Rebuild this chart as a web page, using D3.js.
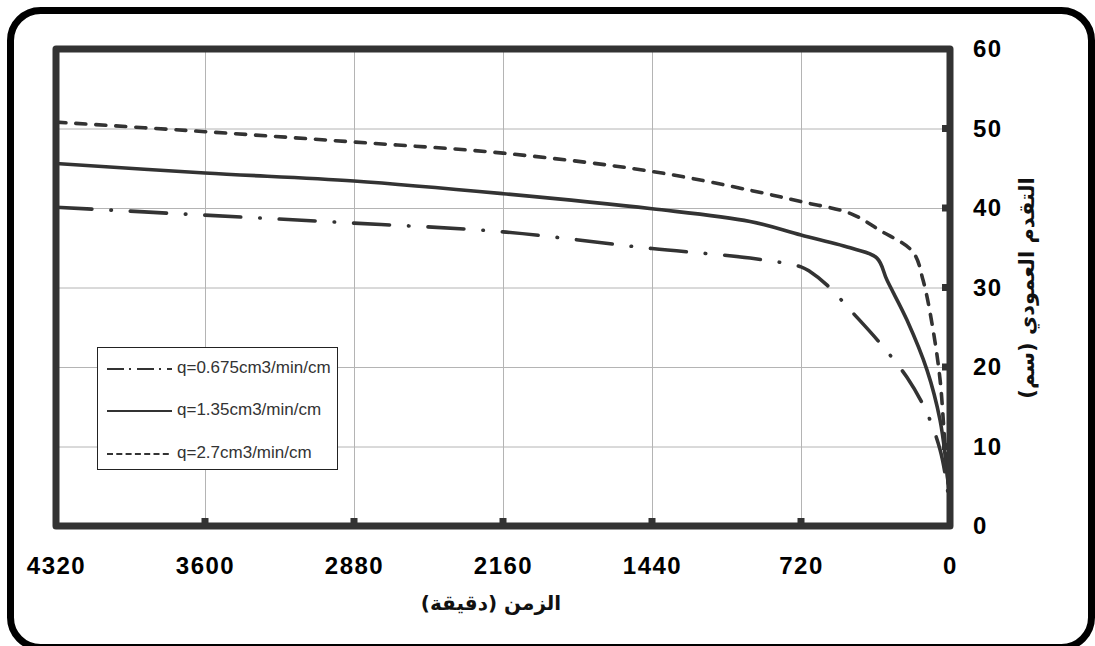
<!DOCTYPE html>
<html>
<head>
<meta charset="utf-8">
<script src="https://cdnjs.cloudflare.com/ajax/libs/d3/7.8.5/d3.min.js"></script>
<style>
body { margin: 0; background: #fff; }
.grid line { stroke: #b4b4b4; stroke-width: 1; }
.grid path { display: none; }
.axis path, .axis line { display: none; }
.axis text { font-family: Arial, "Liberation Sans", sans-serif; font-weight: bold; font-size: 24px; letter-spacing: 1.5px; fill: #000; }
.curve { fill: none; stroke: #333; stroke-width: 3.6; }
.legend text { font-family: Arial, "Liberation Sans", sans-serif; font-size: 17px; fill: #333; }
.title { font-family: "DejaVu Sans", sans-serif; font-weight: bold; font-size: 20px; fill: #111; }
</style>
</head>
<body>
<div id="viz"></div>
<script>
// time in minutes, vertical advance in cm
var xTicks = [4320, 3600, 2880, 2160, 1440, 720, 0];
var yTicks = [0, 10, 20, 30, 40, 50, 60];

var seriesNames = ["q=0.675cm3/min/cm", "q=1.35cm3/min/cm", "q=2.7cm3/min/cm"];

var q0675 = [[4320,40.1],[3600,39.1],[2880,38.1],[2160,37.0],[1440,34.9],[966,33.7],[720,32.6],[677,32.0],[594,30.3],[469,26.8],[338,23.0],[208,18.7],[111,14.2],[48,9.6],[19,5.8],[0,2]];
var q135 = [[4320,45.6],[3600,44.4],[2880,43.4],[2160,41.8],[1440,39.9],[966,38.3],[720,36.6],[470,34.9],[353,33.7],[304,30.9],[208,25.9],[111,19.6],[48,13.3],[19,7.9],[0,3]];
var q27 = [[4320,50.8],[3600,49.6],[2880,48.3],[2160,46.9],[1440,44.6],[960,42.2],[720,40.8],[480,39.3],[340,37.2],[180,34.5],[130,30.9],[82,24.7],[48,18.4],[29,12],[15,7],[0,3]];

var xTitle = "الزمن (دقيقة)";
var yTitle = "التقدم العمودي (سم)";

var W = 1095, H = 646;
var pLeft = 56, pRight = 950, pTop = 49, pBottom = 526;

var svg = d3.select("#viz").append("svg")
    .attr("width", W)
    .attr("height", H);

var x = d3.scaleLinear().domain([4320, 0]).range([pLeft, pRight]);
var y = d3.scaleLinear().domain([0, 60]).range([pBottom, pTop]);

// outer frame
svg.append("rect")
    .attr("x", 10.5).attr("y", 10.5)
    .attr("width", 1081).attr("height", 637)
    .attr("rx", 30).attr("ry", 30)
    .attr("fill", "none")
    .attr("stroke", "#000")
    .attr("stroke-width", 7);

// grid
svg.append("g")
    .attr("class", "grid")
    .attr("transform", "translate(0," + pBottom + ")")
    .call(d3.axisBottom(x).tickValues(xTicks).tickSize(-(pBottom - pTop)).tickFormat(""));
svg.append("g")
    .attr("class", "grid")
    .attr("transform", "translate(" + pRight + ",0)")
    .call(d3.axisRight(y).tickValues(yTicks).tickSize(-(pRight - pLeft)).tickFormat(""));

// curves
var line = d3.line()
    .x(function(d) { return x(d[0]); })
    .y(function(d) { return y(d[1]); })
    .curve(d3.curveCatmullRom.alpha(0.5));

var styles = [
    {data: q0675, dash: "36,19,0.5,19"},
    {data: q135, dash: null},
    {data: q27, dash: "10,10"}
];
styles.forEach(function(s) {
    svg.append("path")
        .attr("class", "curve")
        .attr("d", line(s.data))
        .attr("stroke-dasharray", s.dash)
        .attr("stroke-linecap", s.dash ? "round" : "butt");
});

// plot border
svg.append("rect")
    .attr("x", pLeft).attr("y", pTop)
    .attr("width", pRight - pLeft).attr("height", pBottom - pTop)
    .attr("fill", "none")
    .attr("stroke", "#333")
    .attr("stroke-width", 7)
    .attr("stroke-linejoin", "round");

// small inner tick marks
svg.append("g").selectAll("rect")
    .data(xTicks.filter(function(t) { return t != 4320 && t != 0; }))
    .enter().append("rect")
    .attr("x", function(d) { return x(d) - 3.5; })
    .attr("y", pBottom - 8)
    .attr("width", 7).attr("height", 6)
    .attr("fill", "#333");
svg.append("g").selectAll("rect")
    .data(yTicks.filter(function(t) { return t != 0 && t != 60; }))
    .enter().append("rect")
    .attr("x", pRight - 8)
    .attr("y", function(d) { return y(d) - 3.5; })
    .attr("width", 6).attr("height", 7)
    .attr("fill", "#333");

// tick labels
svg.append("g")
    .attr("class", "axis")
    .attr("transform", "translate(0," + pBottom + ")")
    .call(d3.axisBottom(x).tickValues(xTicks).tickSize(0).tickPadding(31).tickFormat(d3.format("d")));
svg.append("g")
    .attr("class", "axis")
    .attr("transform", "translate(" + pRight + ",0)")
    .call(d3.axisRight(y).tickValues(yTicks).tickSize(0).tickPadding(23).tickFormat(d3.format("d")));

// axis titles
svg.append("text")
    .attr("class", "title")
    .attr("x", 491).attr("y", 604)
    .attr("text-anchor", "middle")
    .attr("dominant-baseline", "middle")
    .attr("direction", "rtl")
    .text(xTitle);
svg.append("text")
    .attr("class", "title")
    .attr("transform", "translate(1028,288) rotate(-90)")
    .attr("text-anchor", "middle")
    .attr("dominant-baseline", "middle")
    .attr("direction", "rtl")
    .style("font-size", "21px")
    .text(yTitle);

// legend
var lg = svg.append("g").attr("class", "legend");
lg.append("rect")
    .attr("x", 97.5).attr("y", 347.5)
    .attr("width", 240).attr("height", 122)
    .attr("fill", "#fff")
    .attr("stroke", "#222")
    .attr("stroke-width", 1);

var legDash = ["17,5,2,6", null, "6,3.3"];
var legY = [369, 411, 454];
seriesNames.forEach(function(n, i) {
    lg.append("line")
        .attr("x1", 107).attr("x2", 172)
        .attr("y1", legY[i]).attr("y2", legY[i])
        .attr("stroke", "#333")
        .attr("stroke-width", 2)
        .attr("stroke-dasharray", legDash[i]);
    lg.append("text")
        .attr("x", 177).attr("y", legY[i])
        .attr("dominant-baseline", "middle")
        .text(n);
});
</script>
</body>
</html>
